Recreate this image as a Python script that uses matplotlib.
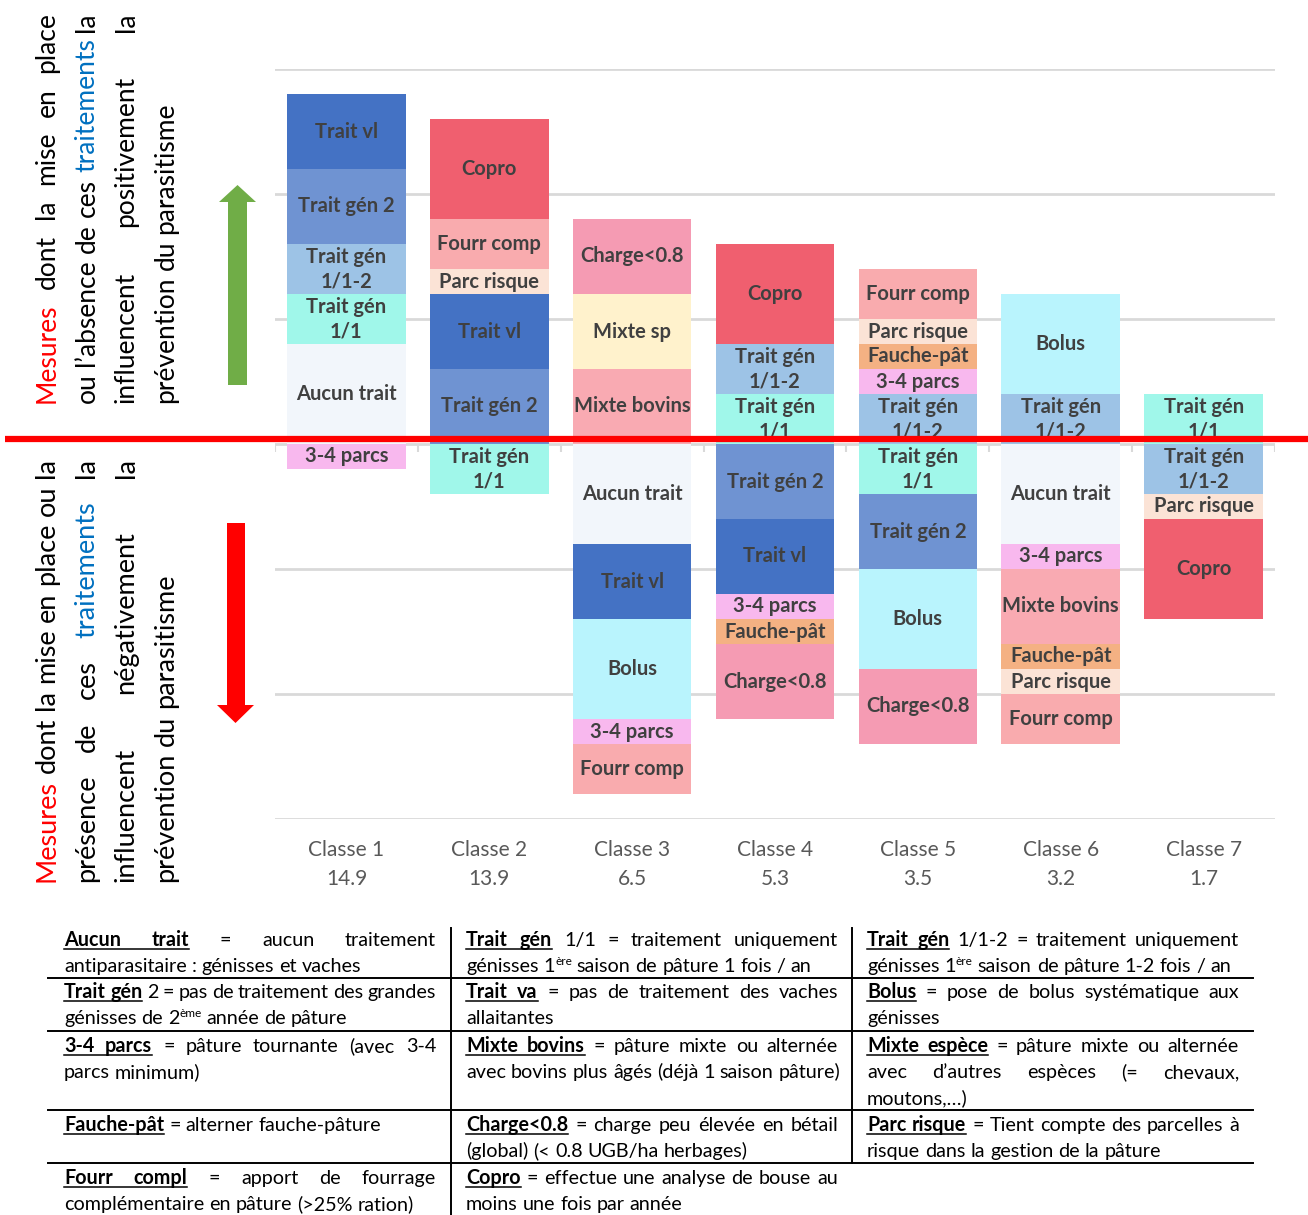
import matplotlib
matplotlib.use("Agg")
import matplotlib.pyplot as plt
import numpy as np
from matplotlib.font_manager import FontProperties
from matplotlib.patches import Polygon

plt.rcParams["font.family"] = ["Lato", "DejaVu Sans"]

W, H = 1308, 1215

# ---------------- data ----------------
classes = ["Classe 1", "Classe 2", "Classe 3", "Classe 4", "Classe 5", "Classe 6", "Classe 7"]
class_sizes = ["14.9", "13.9", "6.5", "5.3", "3.5", "3.2", "1.7"]

# above the line, listed from the zero line upwards
pos_labels = [
    ["Aucun trait", "Trait gén 1/1", "Trait gén 1/1-2", "Trait gén 2", "Trait vl"],
    ["Trait gén 2", "Trait vl", "Parc risque", "Fourr comp", "Copro"],
    ["Mixte bovins", "Mixte sp", "Charge<0.8"],
    ["Trait gén 1/1", "Trait gén 1/1-2", "Copro"],
    ["Trait gén 1/1-2", "3-4 parcs", "Fauche-pât", "Parc risque", "Fourr comp"],
    ["Trait gén 1/1-2", "Bolus"],
    ["Trait gén 1/1"],
]
pos_values = [[4, 2, 2, 3, 3], [3, 3, 1, 2, 4], [3, 3, 3], [2, 2, 4],
              [2, 1, 1, 1, 2], [2, 4], [2]]

# below the line, listed from the zero line downwards
neg_labels = [
    ["3-4 parcs"],
    ["Trait gén 1/1"],
    ["Aucun trait", "Trait vl", "Bolus", "3-4 parcs", "Fourr comp"],
    ["Trait gén 2", "Trait vl", "3-4 parcs", "Fauche-pât", "Charge<0.8"],
    ["Trait gén 1/1", "Trait gén 2", "Bolus", "Charge<0.8"],
    ["Aucun trait", "3-4 parcs", "Mixte bovins", "Fauche-pât", "Parc risque", "Fourr comp"],
    ["Trait gén 1/1-2", "Parc risque", "Copro"],
]
neg_values = [[1], [2], [4, 3, 4, 1, 2], [3, 3, 1, 1, 3], [2, 3, 4, 3],
              [4, 1, 3, 1, 1, 2], [2, 1, 4]]

colors = {
    "Trait vl": "#4472C4",
    "Trait gén 2": "#6F93D2",
    "Trait gén 1/1-2": "#9DC3E6",
    "Trait gén 1/1": "#A0F7EA",
    "Aucun trait": "#F2F6FB",
    "3-4 parcs": "#F8B8EE",
    "Copro": "#F05F6F",
    "Fourr comp": "#F9ABAE",
    "Parc risque": "#FBE3D6",
    "Charge<0.8": "#F59BB3",
    "Mixte sp": "#FFF2CC",
    "Mixte bovins": "#F9AAB2",
    "Bolus": "#B9F4FD",
    "Fauche-pât": "#F4B183",
}
wrapped = {"Trait gén 1/1": "Trait gén\n1/1", "Trait gén 1/1-2": "Trait gén\n1/1-2"}

RED = "#FF0000"
BLUE = "#0070C0"
upper_text = [
    [("Mesures", RED), "dont", "la", "mise", "en", "place"],
    ["ou", "l’absence", "de", "ces", ("traitements", BLUE), "la"],
    ["influencent", "positivement", "la"],
    ["prévention", "du", "parasitisme"],
]
lower_text = [
    [("Mesures", RED), "dont", "la", "mise", "en", "place", "ou", "la"],
    ["présence", "de", "ces", ("traitements", BLUE), "la"],
    ["influencent", "négativement", "la"],
    ["prévention", "du", "parasitisme"],
]

# legend table: _word_ = bold underlined, a^b = superscript
table_rows = [
    [["_Aucun_ _trait_ = aucun traitement", "antiparasitaire : génisses et vaches"],
     ["_Trait_ _gén_ 1/1 = traitement uniquement", "génisses 1^ère saison de pâture 1 fois / an"],
     ["_Trait_ _gén_ 1/1-2 = traitement uniquement", "génisses 1^ère saison de pâture 1-2 fois / an"]],
    [["_Trait_ _gén_ 2 = pas de traitement des grandes", "génisses de 2^ème année de pâture"],
     ["_Trait_ _va_ = pas de traitement des vaches", "allaitantes"],
     ["_Bolus_ = pose de bolus systématique aux", "génisses"]],
    [["_3-4_ _parcs_ = pâture tournante (avec 3-4", "parcs minimum)"],
     ["_Mixte_ _bovins_ = pâture mixte ou alternée", "avec bovins plus âgés (déjà 1 saison pâture)"],
     ["_Mixte_ _espèce_ = pâture mixte ou alternée", "avec d’autres espèces (= chevaux,", "moutons,…)"]],
    [["_Fauche-pât_ = alterner fauche-pâture"],
     ["_Charge<0.8_ = charge peu élevée en bétail", "(global) (< 0.8 UGB/ha herbages)"],
     ["_Parc_ _risque_ = Tient compte des parcelles à", "risque dans la gestion de la pâture"]],
    [["_Fourr_ _compl_ = apport de fourrage", "complémentaire en pâture (>25% ration)"],
     ["_Copro_ = effectue une analyse de bouse au", "moins une fois par année"],
     []],
]

# ---------------- figure ----------------
fig = plt.figure(figsize=(W / 100, H / 100), dpi=100)
renderer = fig.canvas.get_renderer()

ax = fig.add_axes([275 / W, 1 - 819 / H, 1000 / W, 750 / H])
ax.set_xlim(-0.5, 6.5)
ax.set_ylim(-15, 15)
for gy in [-15, -10, -5, 0, 5, 10, 15]:
    ax.axhline(gy, color="#D9D9D9", lw=2, zorder=0)
ax.vlines(np.arange(-0.5, 7), -0.3, 0, color="#D9D9D9", lw=1.5, zorder=0)

label_kw = dict(ha="center", va="center", fontsize=14.5, fontweight="bold",
                color="#404040", linespacing=1.3, zorder=3)
for i in range(len(classes)):
    base = 0
    for lab, v in zip(pos_labels[i], pos_values[i]):
        ax.bar(i, v, bottom=base, width=0.83, color=colors[lab], lw=0, zorder=2)
        ax.text(i, base + v / 2, wrapped.get(lab, lab), **label_kw)
        base += v
    base = 0
    for lab, v in zip(neg_labels[i], neg_values[i]):
        ax.bar(i, -v, bottom=base, width=0.83, color=colors[lab], lw=0, zorder=2)
        ax.text(i, base - v / 2, wrapped.get(lab, lab), **label_kw)
        base -= v

ax.set_xticks(range(len(classes)))
ax.set_xticklabels([f"{c}\n{s}" for c, s in zip(classes, class_sizes)],
                   fontsize=15, color="#595959", linespacing=1.6)
ax.tick_params(axis="x", length=0, pad=15)
ax.set_yticks([])
for sp in ax.spines.values():
    sp.set_visible(False)

# overlay in pixel coordinates for the decorations
ov = fig.add_axes([0, 0, 1, 1])
ov.set_xlim(0, W)
ov.set_ylim(H, 0)
ov.axis("off")
ov.patch.set_visible(False)

ov.plot([5, W], [439, 439], color=RED, lw=4.5, solid_capstyle="butt", zorder=5)

ov.add_patch(Polygon([(228, 385), (247, 385), (247, 202), (256, 202), (237.5, 185),
                      (219, 202), (228, 202)], closed=True, color="#70AD47", lw=0))
ov.add_patch(Polygon([(227, 523), (245, 523), (245, 705), (254, 705), (235.5, 723),
                      (217, 705), (227, 705)], closed=True, color=RED, lw=0))


def text_width(s, prop):
    w, h, d = renderer.get_text_width_height_descent(s, prop, ismath=False)
    return w


def draw_rot_lines(lines, xs, y0, y1, size):
    # shrink the block if one of its justified lines would not fit
    prop = FontProperties(family="Lato", size=size)
    space = text_width("a a", prop) - text_width("aa", prop)
    for words in lines[:-1]:
        need = sum(text_width(w if isinstance(w, str) else w[0], prop) for w in words)
        need += space * (len(words) - 1)
        if need > y0 - y1:
            size = size * (y0 - y1) / need
    prop = FontProperties(family="Lato", size=size)
    space = text_width("a a", prop) - text_width("aa", prop)
    for k, (words, xc) in enumerate(zip(lines, xs)):
        words = [w if isinstance(w, tuple) else (w, "black") for w in words]
        widths = [text_width(w, prop) for w, c in words]
        if k < len(lines) - 1 and len(words) > 1:
            gap = ((y0 - y1) - sum(widths)) / (len(words) - 1)
        else:
            gap = space
        pos = y0
        for (w, c), wd in zip(words, widths):
            ov.text(xc, pos, w, rotation=90, ha="center", va="bottom",
                    fontsize=size, color=c)
            pos -= wd + gap


draw_rot_lines(upper_text, [47, 87, 126, 166], 403, 12, 20)
draw_rot_lines(lower_text, [47, 87, 126, 166], 882, 458, 20)

# table
TS = 14.2
p_norm = FontProperties(family="Lato", size=TS)
p_bold = FontProperties(family="Lato", size=TS, weight="bold")
p_sup = FontProperties(family="Lato", size=TS * 0.6)
t_space = text_width("a a", p_norm) - text_width("aa", p_norm)


def split_word(w):
    if w.startswith("_") and w.endswith("_"):
        return [(w[1:-1], p_bold, 0)], True
    if "^" in w:
        a, b = w.split("^")
        return [(a, p_norm, 0), (b, p_sup, -7)], False
    return [(w, p_norm, 0)], False


def draw_cell(lines, x0, x1, y_first, pitch=26.3):
    for k, line in enumerate(lines):
        words = [split_word(w) for w in line.split(" ")]
        widths = [sum(text_width(t, p) for t, p, dy in parts) for parts, u in words]
        if k < len(lines) - 1 and len(words) > 1:
            gap = ((x1 - x0) - sum(widths)) / (len(words) - 1)
            gap = max(gap, t_space * 0.6)
        else:
            gap = t_space
        yb = y_first + k * pitch + 6
        pos = x0
        run_start = None
        for (parts, under), wd in zip(words, widths):
            cx = pos
            for t, p, dy in parts:
                ov.text(cx, yb + dy, t, ha="left", va="baseline", fontproperties=p,
                        color="black")
                cx += text_width(t, p)
            if under:
                if run_start is None:
                    run_start = pos
                run_end = pos + wd
            elif run_start is not None:
                ov.plot([run_start, run_end], [yb + 2.5, yb + 2.5], color="black", lw=1.1)
                run_start = None
            pos += wd + gap
        if run_start is not None:
            ov.plot([run_start, run_end], [yb + 2.5, yb + 2.5], color="black", lw=1.1)


col_x = [(64, 436), (466, 838), (867, 1239)]
row_y = [940, 992, 1046, 1125, 1178]
for row, ry in zip(table_rows, row_y):
    for cell, (cx0, cx1) in zip(row, col_x):
        draw_cell(cell, cx0, cx1, ry)

for hy in [978, 1031, 1110, 1163]:
    ov.plot([48, 1253], [hy, hy], color="black", lw=1.4)
ov.plot([451, 451], [928, H], color="black", lw=1.4)
ov.plot([852, 852], [928, 1163], color="black", lw=1.4)

fig.savefig("out.png", dpi=100)
